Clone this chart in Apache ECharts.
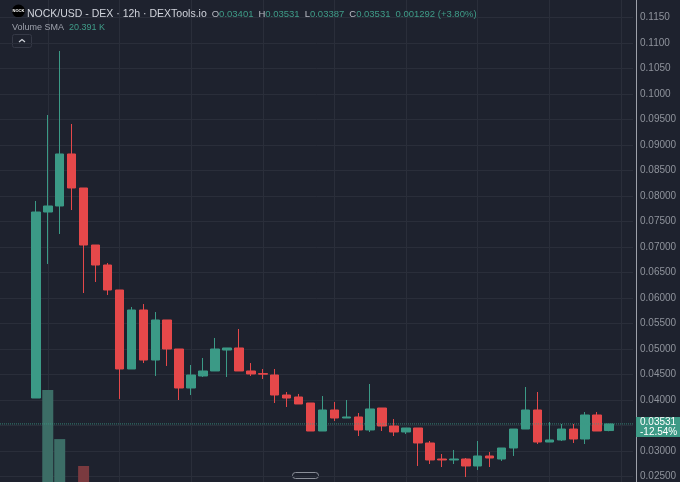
<!DOCTYPE html>
<html>
<head>
<meta charset="utf-8">
<script src="https://cdn.jsdelivr.net/npm/echarts@6/dist/echarts.min.js"></script>
<style>
  html, body { margin: 0; padding: 0; background: #1e222e; }
  #chart { width: 680px; height: 482px; }
</style>
</head>
<body>
<div id="chart"></div>
<script>
// 12h candles, NOCK/USD
const opens  = [0.04039, 0.07686, 0.07804, 0.08824, 0.08157, 0.07039, 0.06647, 0.06157, 0.04608, 0.05765,
                0.04784, 0.05569, 0.05000, 0.04235, 0.04471, 0.04569, 0.04980, 0.05020, 0.04569, 0.04518,
                0.04490, 0.04098, 0.04059, 0.03941, 0.03392, 0.03804, 0.03647, 0.03667, 0.03412, 0.03843,
                0.03490, 0.03373, 0.03451, 0.03157, 0.02843, 0.02824, 0.02843, 0.02706, 0.02902, 0.02843,
                0.03059, 0.03431, 0.03804, 0.03176, 0.03216, 0.03431, 0.03235, 0.03706, 0.03401];
const closes = [0.07686, 0.07804, 0.08824, 0.08157, 0.07039, 0.06647, 0.06157, 0.04608, 0.05765, 0.04784,
                0.05569, 0.05000, 0.04235, 0.04490, 0.04569, 0.05000, 0.05020, 0.04569, 0.04510, 0.04506,
                0.04098, 0.04039, 0.03922, 0.03392, 0.03804, 0.03647, 0.03667, 0.03412, 0.03824, 0.03490,
                0.03373, 0.03451, 0.03157, 0.02824, 0.02824, 0.02843, 0.02706, 0.02902, 0.02863, 0.03059,
                0.03431, 0.03804, 0.03176, 0.03216, 0.03431, 0.03235, 0.03706, 0.03392, 0.03531];
const lows   = [0.04039, 0.06667, 0.07255, 0.07725, 0.06098, 0.06314, 0.06059, 0.04020, 0.04608, 0.04725,
                0.04471, 0.04667, 0.04000, 0.04098, 0.04451, 0.04569, 0.04451, 0.04569, 0.04471, 0.04412,
                0.03941, 0.03863, 0.03922, 0.03392, 0.03392, 0.03588, 0.03647, 0.03294, 0.03373, 0.03392,
                0.03294, 0.03333, 0.02706, 0.02745, 0.02686, 0.02745, 0.02490, 0.02627, 0.02686, 0.02804,
                0.02902, 0.03431, 0.03137, 0.03176, 0.03196, 0.03157, 0.03137, 0.03392, 0.03387];
const highs  = [0.07902, 0.09588, 0.10843, 0.09412, 0.08157, 0.07039, 0.06686, 0.06157, 0.05824, 0.05882,
                0.05725, 0.05569, 0.05000, 0.04686, 0.04824, 0.05216, 0.05020, 0.05392, 0.04725, 0.04608,
                0.04608, 0.04157, 0.04118, 0.03941, 0.04078, 0.03961, 0.04000, 0.03745, 0.04314, 0.03843,
                0.03627, 0.03451, 0.03451, 0.03196, 0.02941, 0.03020, 0.02863, 0.03196, 0.02980, 0.03059,
                0.03431, 0.04255, 0.04157, 0.03569, 0.03529, 0.03529, 0.03765, 0.03765, 0.03531];
const volumesK = [110, 530, 317, 95, 200, 70, 60, 120, 80, 65, 70, 55, 60, 40, 25, 35, 20, 30, 15, 12,
                  25, 15, 12, 30, 28, 18, 10, 22, 26, 20, 14, 12, 35, 28, 12, 10, 22, 20, 14, 16,
                  24, 38, 40, 15, 18, 16, 30, 22, 12];
const lastChange = '-12.54%';
const volumeSma = '20.391 K';

const GREEN = '#3b9a86', RED = '#e5484a';
const VOL_GREEN = '#3c6d66', VOL_RED = '#7a3a3f';
const BG = '#1e222e', GRID = '#2a2e3a';
const FONT = '"Liberation Sans", Arial, sans-serif';

// empty slots before and after the candles
const PAD_LEFT = 3, PAD_RIGHT = 2;
const slots = [];
for (let i = 0; i < PAD_LEFT + opens.length + PAD_RIGHT; i++) slots.push(String(i));

const candleData = opens.map((o, i) => [slots[PAD_LEFT + i], o, closes[i], lows[i], highs[i]]);
const volumeData = volumesK.map((v, i) => ({
  value: [slots[PAD_LEFT + i], v],
  itemStyle: { color: closes[i] >= opens[i] ? VOL_GREEN : VOL_RED }
}));
const lastClose = closes[closes.length - 1];
const lastOpen = opens[opens.length - 1];
const fmt = (v) => v.toFixed(5);

let myChart = echarts.init(document.getElementById('chart'));
let option = {
  backgroundColor: BG,
  animation: false,
  title: [{
    left: 27, top: 5, padding: 0,
    text: '{t|NOCK/USD - DEX · 12h · DEXTools.io} {k|O}{v|' + fmt(lastOpen) + '} {k|H}{v|' + fmt(highs[highs.length - 1]) +
          '} {k|L}{v|' + fmt(lows[lows.length - 1]) + '} {k|C}{v|' + fmt(lastClose) + '} {v|0.001292 (+3.80%)}',
    textStyle: {
      fontWeight: 'normal',
      rich: {
        t: { color: '#d1d4dc', fontSize: 10.5, fontFamily: FONT, fontWeight: 'normal' },
        k: { color: '#b8bbc4', fontSize: 9.5, fontFamily: FONT, fontWeight: 'normal' },
        v: { color: '#3f9c88', fontSize: 9.5, fontFamily: FONT, fontWeight: 'normal' }
      }
    }
  }, {
    left: 12, top: 19, padding: 0,
    text: '{k|Volume SMA} {v|' + volumeSma + '}',
    textStyle: {
      fontWeight: 'normal',
      rich: {
        k: { color: '#9da1ab', fontSize: 9, fontFamily: FONT, fontWeight: 'normal' },
        v: { color: '#3f9c88', fontSize: 9, fontFamily: FONT, fontWeight: 'normal' }
      }
    }
  }],
  grid: [
    { left: 0, right: 47, top: -8, bottom: -20, outerBoundsMode: 'none', containLabel: false },
    { left: 0, right: 47, top: 282, bottom: -30, outerBoundsMode: 'none', containLabel: false }
  ],
  xAxis: [{
    type: 'category', data: slots, boundaryGap: false, gridIndex: 0,
    axisLine: { show: false }, axisTick: { show: false }, axisLabel: { show: false },
    splitLine: {
      show: true,
      interval: (idx) => (idx - 4) % 6 === 0,
      lineStyle: { color: GRID, width: 1 }
    }
  }, {
    type: 'category', data: slots, boundaryGap: false, gridIndex: 1,
    axisLine: { show: false }, axisTick: { show: false }, axisLabel: { show: false },
    splitLine: { show: false }
  }],
  yAxis: [{
    type: 'value', position: 'right', gridIndex: 0, offset: 3,
    min: 0.02, max: 0.12, interval: 0.005,
    axisLine: { show: true, lineStyle: { color: '#9ea1aa', width: 1 } },
    axisTick: { show: false },
    axisLabel: {
      color: '#8f939c', fontSize: 10, fontFamily: FONT, margin: 4,
      formatter: (v) => v >= 0.0999 ? v.toFixed(4) : v.toFixed(5)
    },
    splitLine: { show: true, lineStyle: { color: GRID, width: 1 } }
  }, {
    type: 'value', gridIndex: 1, min: 0, max: 1000,
    show: false, splitLine: { show: false }
  }],
  series: [{
    type: 'bar', name: 'Volume', xAxisIndex: 1, yAxisIndex: 1,
    data: volumeData, barWidth: 11, z: 1
  }, {
    type: 'candlestick', name: 'NOCK/USD', xAxisIndex: 0, yAxisIndex: 0,
    data: candleData,
    encode: { x: 0, y: [1, 2, 3, 4] },
    barWidth: 9, z: 3,
    itemStyle: { color: GREEN, color0: RED, borderColor: GREEN, borderColor0: RED, borderWidth: 1 }
  }, {
    // last price line with its tag on the price scale
    type: 'line', name: 'last', xAxisIndex: 0, yAxisIndex: 0, z: 4,
    data: [[slots[0], lastClose], [slots[slots.length - 1], lastClose]],
    showSymbol: false, silent: true,
    lineStyle: { color: GREEN, type: 'dotted', width: 1, opacity: 0.8 },
    endLabel: {
      show: true, distance: 3, offset: [0, 3],
      formatter: fmt(lastClose) + '\n' + lastChange,
      backgroundColor: '#3d9a86', color: '#ffffff',
      fontSize: 10, lineHeight: 10, fontFamily: FONT,
      padding: [0, 4, 0, 4]
    }
  }],
  graphic: [
    { type: 'circle', shape: { cx: 18.5, cy: 11, r: 6.5 }, style: { fill: '#000000' } },
    { type: 'text', x: 18.5, y: 11, style: { text: 'NOCK', fill: '#ffffff', font: 'bold 4px ' + FONT, align: 'center', verticalAlign: 'middle' } },
    { type: 'rect', shape: { x: 12.5, y: 34.5, width: 19, height: 13, r: 2 }, style: { fill: 'none', stroke: '#353946', lineWidth: 1 } },
    { type: 'polyline', shape: { points: [[19, 42], [22, 39.5], [25, 42]] }, style: { stroke: '#d0d3da', lineWidth: 1.2, fill: 'none' } },
    { type: 'rect', shape: { x: 292.5, y: 472.5, width: 26, height: 6, r: 3 }, style: { fill: 'none', stroke: '#8a8e98', lineWidth: 1 } }
  ]
};
myChart.setOption(option);
</script>
</body>
</html>
